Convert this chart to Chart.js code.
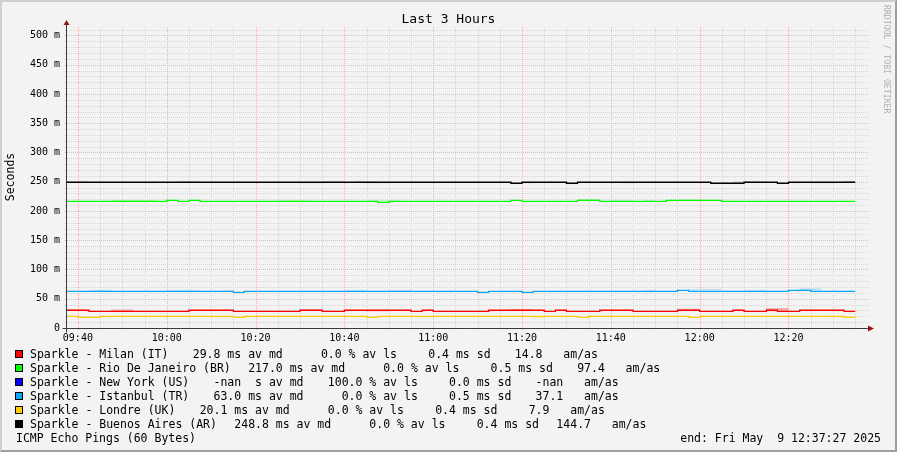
<!DOCTYPE html>
<html>
<head>
<meta charset="utf-8">
<script src="https://cdn.jsdelivr.net/npm/chart.js"></script>
<style>
  html, body { margin: 0; padding: 0; background: #f3f3f3; }
  #frame {
    position: absolute; left: 0; top: 0; width: 897px; height: 452px; box-sizing: border-box;
    border-top: 2px solid #cfcfcf; border-left: 2px solid #cfcfcf;
    border-right: 2px solid #9e9e9e; border-bottom: 2px solid #9e9e9e;
    background: #f3f3f3;
  }
  #chart { position: absolute; left: 0; top: 0; }
  .txt { position: absolute; font-family: "DejaVu Sans Mono", monospace; color: #000; white-space: pre; }
  #title { left: 0; top: 11px; width: 897px; text-align: center; font-size: 13px; line-height: 16px; }
  #ylab { left: -40px; top: 170px; width: 100px; height: 14px; text-align: center; font-size: 11.5px; line-height: 14px; transform: rotate(-90deg); }
  #mark { left: 882px; top: 5px; font-size: 8.2px; line-height: 10px; color: #b0b0b0; writing-mode: vertical-rl; }
  .row { position: absolute; left: 30px; font-size: 11.5px; line-height: 14px; }
  .row span + span { margin-left: 17.35px; }
  .box { position: absolute; left: 15px; width: 8px; height: 8px; box-sizing: border-box; border: 1px solid #000; }
  #probe { left: 16px; top: 431px; font-size: 11.5px; line-height: 14px; }
  #end { right: 16px; top: 431px; font-size: 11.5px; line-height: 14px; }
</style>
</head>
<body>
<div id="frame"></div>
<canvas id="chart" width="897" height="452"></canvas>
<div class="txt" id="title">Last 3 Hours</div>
<div class="txt" id="ylab">Seconds</div>
<div class="txt" id="mark">RRDTOOL / TOBI OETIKER</div>
<div id="legend"></div>
<div class="txt" id="probe">ICMP Echo Pings (60 Bytes)</div>
<div class="txt" id="end">end: Fri May  9 12:37:27 2025</div>

<script>
/* ======================
   DATA
   (x = minutes after 09:40, y = milliseconds)
====================== */
const hostNames = [
  "Sparkle - Milan (IT)",
  "Sparkle - Rio De Janeiro (BR)",
  "Sparkle - New York (US)",
  "Sparkle - Istanbul (TR)",
  "Sparkle - Londre (UK)",
  "Sparkle - Buenos Aires (AR)"
];
const hostColors = ["#ff0000", "#00ff00", "#0000ff", "#0aa5f5", "#ffcc00", "#000000"];

const avgMedian = [29.8, 217.0, NaN, 63.0, 20.1, 248.8];
const avgLoss   = [0.0, 0.0, 100.0, 0.0, 0.0, 0.0];
const avgSdev   = [0.4, 0.5, 0.0, 0.5, 0.4, 0.4];
const avgAmAs   = [14.8, 97.4, NaN, 37.1, 7.9, 144.7];

const timeLabels = ["09:40", "10:00", "10:20", "10:40", "11:00", "11:20", "11:40", "12:00", "12:20"];
const labelTimes = [0, 20, 40, 60, 80, 100, 120, 140, 160];
const yLabels    = ["0", "50 m", "100 m", "150 m", "200 m", "250 m", "300 m", "350 m", "400 m", "450 m", "500 m"];
const yLabelVals = [0, 50, 100, 150, 200, 250, 300, 350, 400, 450, 500];

const xStart = -2.45;   // 09:37:33
const xEnd = 177.45;    // 12:37:27
const dataEnd = 175;

// median steps: start time of each step and its value
const milanT = [-2.5, 2.5, 25, 35, 50, 55, 60, 75, 77.5, 80, 92.5, 105, 107.5, 110, 117.5, 125, 135, 140, 147.5, 150, 155, 157.5, 162.5, 172.5];
const milanV = [30.3, 28.5, 30.3, 28.5, 30.3, 28.5, 30.3, 28.5, 30.3, 28.5, 30.3, 28.5, 30.3, 28.5, 30.3, 28.5, 30.3, 28.5, 30.3, 28.5, 30.3, 28.5, 30.3, 28.5];

const rioT = [-2.5, 20, 22.5, 25, 27.5, 67.5, 70, 97.5, 100, 112.5, 117.5, 132.5, 145];
const rioV = [216.6, 218.3, 216.6, 218.3, 216.6, 214.9, 216.6, 218.3, 216.6, 218.3, 216.6, 218.3, 216.6];

const newYorkT = [];
const newYorkV = [];

const istanbulT = [-2.5, 35, 37.5, 90, 92.5, 100, 102.5, 135, 137.5, 160, 165];
const istanbulV = [62.7, 61.0, 62.7, 61.0, 62.7, 61.0, 62.7, 64.4, 62.7, 64.4, 62.7];

const londreT = [-2.5, 0, 5, 35, 37.5, 65, 67.5, 112.5, 115, 137.5, 140, 172.5];
const londreV = [20.0, 18.3, 20.0, 18.3, 20.0, 18.3, 20.0, 18.3, 20.0, 18.3, 20.0, 18.3];

const buenosT = [-2.5, 97.5, 100, 110, 112.5, 142.5, 150, 157.5, 160];
const buenosV = [249.1, 247.4, 249.1, 247.4, 249.1, 247.4, 249.1, 247.4, 249.1];

// smoke blocks: [from, to, low, high]
const milanSmoke = [[-2.5, 0, 30.3, 32], [7.5, 12.5, 28.5, 31.5], [50, 55, 30.3, 32], [65, 70, 28.5, 30.3],
  [97.5, 102.5, 30.3, 32.5], [135, 140, 30.3, 33], [155, 160, 28.5, 34]];
const rioSmoke = [[7.5, 17.5, 216.6, 218.8], [45, 52.5, 216.6, 218.3], [65, 72.5, 216.6, 218.3], [92.5, 95, 215, 216.6],
  [100, 102.5, 215, 216.6], [112.5, 117.5, 218.3, 220.5], [120, 125, 216.6, 218.3], [127.5, 130, 216.6, 218.3], [135, 140, 218.3, 219.5]];
const newYorkSmoke = [];
const istanbulSmoke = [[2.5, 7.5, 62.7, 64.9], [20, 27.5, 62.7, 64.4], [32.5, 35, 62.7, 64.4], [60, 65, 62.7, 64.4],
  [70, 75, 62.7, 64.4], [127.5, 130, 62.7, 64.4], [137.5, 145, 64.4, 66.1], [150, 155, 62.7, 64.4], [162.5, 167.5, 64.4, 67.5]];
const londreSmoke = [[30, 35, 18.3, 20], [75, 80, 18.3, 20], [102.5, 105, 16.5, 20], [167.5, 172.5, 18.3, 20]];
const buenosSmoke = [[-2.5, 2.5, 249.1, 250.8], [15, 17.5, 247.4, 249.1], [22.5, 27.5, 249.1, 250.8], [50, 55, 247.4, 249.1],
  [55, 60, 249.1, 250.8], [62.5, 65, 249.1, 250.8], [65, 67.5, 247.4, 250.8], [67.5, 70, 247.4, 249.1],
  [100, 102.5, 247.4, 249.1], [122.5, 125, 247.4, 249.1], [147.5, 150, 247.4, 250.8], [150, 155, 249.1, 250.8],
  [160, 162.5, 247.4, 249.1], [165, 170, 247.4, 249.1], [172.5, 175, 249.1, 251.5]];

const stepTimes  = [milanT, rioT, newYorkT, istanbulT, londreT, buenosT];
const stepValues = [milanV, rioV, newYorkV, istanbulV, londreV, buenosV];
const smokes     = [milanSmoke, rioSmoke, newYorkSmoke, istanbulSmoke, londreSmoke, buenosSmoke];

/* ======================
   HELPERS
====================== */
function stepPoints(ts, vs) {
  const pts = ts.map((t, i) => ({ x: t, y: vs[i] }));
  if (pts.length) pts.push({ x: dataEnd, y: vs[vs.length - 1] });
  return pts;
}

function smokePoints(blocks, which, base) {
  const ts = [...new Set(blocks.flatMap(b => [b[0], b[1]]))].sort((a, b) => a - b);
  return ts.map(t => {
    const b = blocks.find(k => t >= k[0] && t < k[1]);
    return { x: t, y: b ? b[which] : base };
  });
}

function rgba(hex, a) {
  const n = parseInt(hex.slice(1), 16);
  return `rgba(${n >> 16},${(n >> 8) & 255},${n & 255},${a})`;
}

function fmt(v) {
  return isNaN(v) ? " -nan" : v.toFixed(1).padStart(5, " ");
}

/* ---------- LEGEND ---------- */
const legendEl = document.getElementById("legend");
hostNames.forEach((name, i) => {
  const y = 354 + i * 14;
  const box = document.createElement("div");
  box.className = "box";
  box.style.top = (y - 4) + "px";
  box.style.background = hostColors[i];
  legendEl.appendChild(box);

  const row = document.createElement("div");
  row.className = "txt row";
  row.style.top = (y - 7) + "px";
  const parts = [
    name,
    fmt(avgMedian[i]) + " " + (isNaN(avgMedian[i]) ? " " : "m") + "s av md ",
    fmt(avgLoss[i]) + " % av ls",
    fmt(avgSdev[i]) + " ms sd",
    fmt(avgAmAs[i]) + "   am/as"
  ];
  parts.forEach(p => {
    const s = document.createElement("span");
    s.textContent = p;
    row.appendChild(s);
  });
  legendEl.appendChild(row);
});

/* ---------- DATASETS ---------- */
const datasets = [];
hostNames.forEach((name, i) => {
  if (!stepTimes[i].length) return;
  const base = stepValues[i][0];
  if (smokes[i].length) {
    datasets.push({
      data: smokePoints(smokes[i], 2, base),
      stepped: true, borderWidth: 0, pointRadius: 0, fill: false, order: 1
    });
    datasets.push({
      data: smokePoints(smokes[i], 3, base),
      stepped: true, borderWidth: 0, pointRadius: 0,
      fill: "-1", backgroundColor: rgba(hostColors[i] === "#000000" ? "#808080" : hostColors[i], 0.28),
      order: 1
    });
  }
  datasets.push({
    label: name,
    data: stepPoints(stepTimes[i], stepValues[i]),
    stepped: true, borderColor: hostColors[i], borderWidth: 1.3,
    pointRadius: 0, fill: false, order: 0
  });
});

const xGrid = [];
for (let t = 0; t <= 175; t += 5) xGrid.push(t);
const yGrid = [];
for (let v = 0; v <= 510; v += 10) yGrid.push(v);

const MAJOR = "#f5b0b0";
const MINOR = "#d6d6d6";
const tickFont = { family: "DejaVu Sans Mono", size: 10 };

/* ---------- DOTTED GRID (rrdtool style) ---------- */
const dottedGrid = {
  id: "dottedGrid",
  beforeDatasetsDraw(chart) {
    const { ctx, chartArea: a, scales: { x, y } } = chart;
    ctx.save();
    ctx.lineWidth = 1;
    ctx.setLineDash([1, 1]);
    const line = (x1, y1, x2, y2, col) => {
      ctx.strokeStyle = col;
      ctx.beginPath(); ctx.moveTo(x1, y1); ctx.lineTo(x2, y2); ctx.stroke();
    };
    // minor first, major on top
    [false, true].forEach(major => {
      xGrid.forEach(v => {
        if (labelTimes.includes(v) !== major) return;
        const px = Math.round(x.getPixelForValue(v)) + 0.5;
        line(px, a.top, px, a.bottom + 2, major ? MAJOR : MINOR);
      });
      yGrid.forEach(v => {
        if (v === 0 || yLabelVals.includes(v) !== major) return;
        const py = Math.round(y.getPixelForValue(v)) + 0.5;
        line(a.left - 2, py, a.right + 2, py, major ? MAJOR : MINOR);
      });
    });
    ctx.restore();
  }
};

/* ---------- AXES + ARROWS ---------- */
const axisArrows = {
  id: "axisArrows",
  afterDraw(chart) {
    const { ctx, chartArea: a } = chart;
    const ox = a.left - 0.5, oy = a.bottom + 0.5;
    ctx.save();
    ctx.strokeStyle = "#3a3a3a";
    ctx.lineWidth = 1;
    ctx.beginPath();
    ctx.moveTo(ox, oy + 4); ctx.lineTo(ox, a.top - 4);
    ctx.moveTo(ox - 4, oy); ctx.lineTo(a.right + 4, oy);
    ctx.stroke();
    ctx.fillStyle = "#8b1c1c";
    ctx.beginPath();
    ctx.moveTo(ox - 3, a.top - 2); ctx.lineTo(ox + 3, a.top - 2); ctx.lineTo(ox, a.top - 7);
    ctx.closePath(); ctx.fill();
    ctx.beginPath();
    ctx.moveTo(a.right + 2, oy - 3); ctx.lineTo(a.right + 2, oy + 3); ctx.lineTo(a.right + 8, oy);
    ctx.closePath(); ctx.fill();
    ctx.restore();
  }
};

new Chart(document.getElementById("chart"), {
  type: "line",
  data: { datasets },
  options: {
    responsive: false,
    animation: false,
    layout: { padding: { left: 0, top: 27, right: 31, bottom: 104 } },
    plugins: { legend: { display: false }, tooltip: { enabled: false }, title: { display: false } },
    scales: {
      x: {
        type: "linear", min: xStart, max: xEnd,
        afterBuildTicks: s => { s.ticks = xGrid.map(v => ({ value: v })); },
        afterFit: s => { s.height = 20; },
        ticks: {
          autoSkip: false, maxRotation: 0, padding: 4, color: "#000", font: tickFont,
          callback: v => { const k = labelTimes.indexOf(v); return k < 0 ? "" : timeLabels[k]; }
        },
        grid: { display: false, drawTicks: false },
        border: { display: false }
      },
      y: {
        type: "linear", min: 0, max: 514.5,
        afterBuildTicks: s => { s.ticks = yGrid.map(v => ({ value: v })); },
        afterFit: s => { s.width = 67; },
        ticks: {
          autoSkip: false, padding: 7, color: "#000", font: tickFont,
          callback: v => { const k = yLabelVals.indexOf(v); return k < 0 ? "" : yLabels[k]; }
        },
        grid: { display: false, drawTicks: false },
        border: { display: false }
      }
    }
  },
  plugins: [dottedGrid, axisArrows]
});
</script>
</body>
</html>
